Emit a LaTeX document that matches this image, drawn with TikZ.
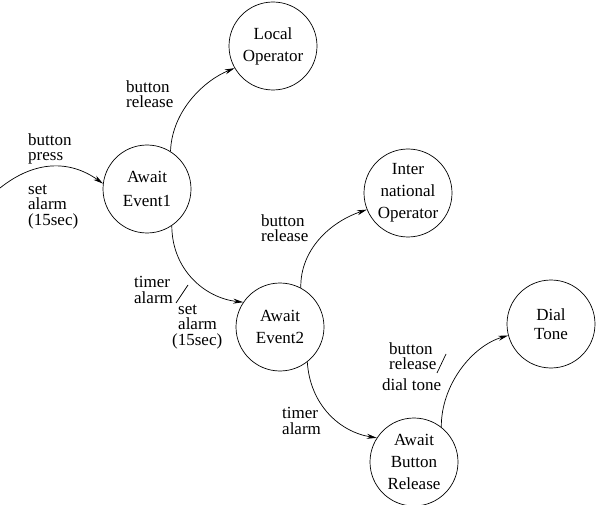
\documentclass[tikz,border=0pt]{standalone}
\usepackage{fontspec}
\setmainfont{Liberation Serif}
\usetikzlibrary{arrows.meta}
\begin{document}
\begin{tikzpicture}[x=1pt,y=-1pt,
  state/.style={draw, circle, minimum size=88pt, inner sep=0pt, line width=0.7pt, align=center, font=\fontsize{17}{22}\selectfont},
  lbl/.style={align=left, anchor=west, inner sep=0pt, font=\fontsize{17}{15.5}\selectfont},
  conn/.style={line width=0.7pt, -{Stealth[length=10pt,width=5pt]}},
  slash/.style={line width=0.7pt}]
\useasboundingbox (0,0) rectangle (597,505);

% states
\node[state] (LO) at (273,46) {Local\\Operator};
\node[state, font=\fontsize{17}{24}\selectfont] (E1) at (147,189) {Await\\Event1};
\node[state] (IO) at (408,193) {Inter\\national\\Operator};
\node[state] (E2) at (280,327) {Await\\Event2};
\node[state, font=\fontsize{17}{19}\selectfont] (DT) at (551,324) {Dial\\Tone};
\node[state] (BR) at (414,462) {Await\\Button\\Release};

% incoming
\coordinate (start) at (0,188);
\draw[conn] (start) .. controls (35,160) and (70,160) .. (E1.173);
\node[lbl] (l1) at (28,149) {button\\press};
\node[lbl] (l2) at (28,207) {set\\alarm\\(15sec)};

% E1 -> LO
\draw[conn] (E1.58) .. controls (172,110) and (205,80) .. (LO.210);
\node[lbl] (l3) at (126,94) {button\\release};

% E1 -> E2
\draw[conn] (E1.-56) .. controls (172,270) and (205,298) .. (E2.146);
\node[lbl] (l4) at (134,290) {timer\\alarm};
\coordinate (s1a) at (188,285);
\coordinate (s1b) at (176,303);
\draw[slash] (s1a) -- (s1b);
\node[lbl] (l5) at (172,327) {\hspace*{6pt}set\\\hspace*{6pt}alarm\\(15sec)};

% E2 -> IO
\draw[conn] (E2.62) .. controls (300,250) and (330,222) .. (IO.202);
\node[lbl] (l6) at (261,228) {button\\release};

% E2 -> BR
\draw[conn] (E2.-52) .. controls (310,405) and (340,432) .. (BR.147);
\node[lbl] (l7) at (282,421) {timer\\alarm};

% BR -> DT
\draw[conn] (BR.52) .. controls (441,385) and (472,346) .. (DT.195);
\node[lbl] (l8) at (389,356) {button\\release};
\coordinate (s2a) at (446,354);
\coordinate (s2b) at (437,373);
\draw[slash] (s2a) -- (s2b);
\node[lbl] (l9) at (382,385) {dial tone};
\end{tikzpicture}
\end{document}
